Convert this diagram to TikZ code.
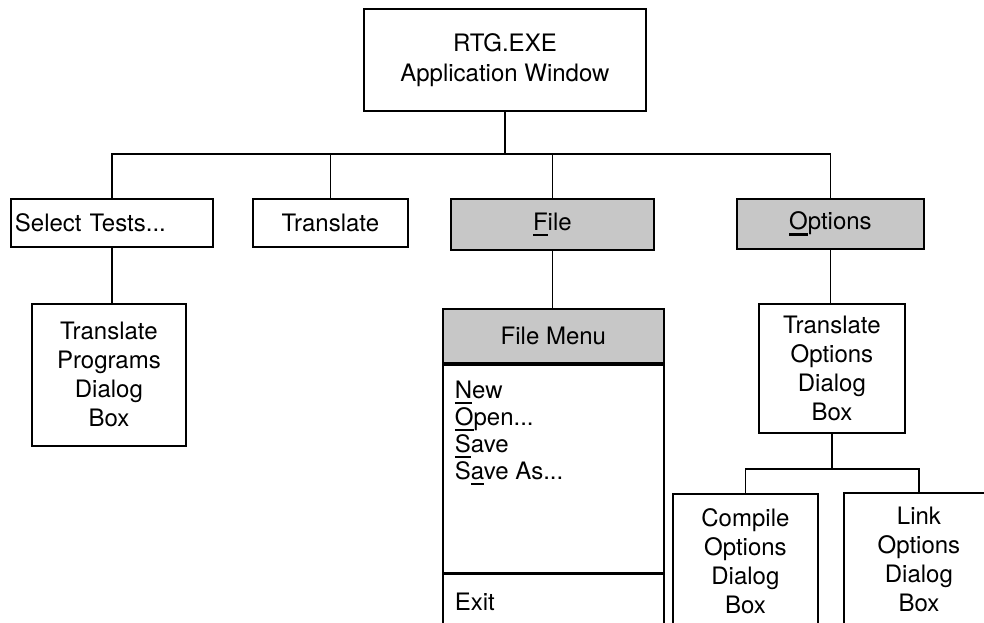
\documentclass[tikz,border=0pt]{standalone}
\usepackage{fontspec}
\setmainfont{TeX Gyre Heros}
\usetikzlibrary{positioning}
\newcommand{\mnem}[1]{\leavevmode\setbox0=\hbox{#1}\rlap{\rule[-3pt]{\wd0}{1.3pt}}#1}

\begin{document}
\begin{tikzpicture}[x=0.5pt,y=-0.5pt,
			box/.style={draw,line width=0.9pt,anchor=north west,inner sep=2pt,align=center,font=\fontsize{12}{14.5}\selectfont},
			shaded/.style={box,fill=black!22},
			wire/.style={draw,line width=0.9pt}
			]
			\useasboundingbox (0,0) rectangle (984,622);
			\node[box,minimum width=141pt,minimum height=51pt,font=\fontsize{12}{15}\selectfont] (app) at (363,8) {RTG.EXE\\Application Window};
			\node[box,minimum width=101pt,minimum height=24pt,text width=97pt,align=left] (sel) at (10,198) {Select Tests...};
			\node[box,minimum width=77.5pt,minimum height=24pt] (trans) at (252,198) {Translate};
			\node[shaded,minimum width=101.5pt,minimum height=25.5pt] (file) at (450,198) {\mnem{F}ile};
			\node[shaded,minimum width=93.5pt,minimum height=25pt] (opt) at (736,198) {\mnem{O}ptions};
			\node[box,minimum width=77pt,minimum height=71pt] (tprog) at (31,303) {Translate\\Programs\\Dialog\\Box};
			% file menu
			\node[shaded,minimum width=110.5pt,minimum height=27pt] (fmhead) at (442,308) {File Menu};
			\node[box,minimum width=110.5pt,inner xsep=6pt,inner ysep=8pt] (fmbody) [below=0pt of fmhead]
				{\parbox[c][88pt][t]{98.5pt}{\fontsize{12}{13.5}\selectfont\mnem{N}ew\\\mnem{O}pen...\\\mnem{S}ave\\S\mnem{a}ve As...}};
			\node[box,minimum width=110.5pt,minimum height=27pt,text width=98.5pt,align=left,inner xsep=6pt] (fmexit) [below=0pt of fmbody] {Exit};
			% options dialogs
			\node[box,minimum width=73pt,minimum height=64.5pt] (topt) at (758,303) {Translate\\Options\\Dialog\\Box};
			\node[box,minimum width=72.5pt,minimum height=67pt] (comp) at (672,493) {Compile\\Options\\Dialog\\Box};
			\node[box,minimum width=75pt,minimum height=67pt] (lnk) at (843,492) {Link\\Options\\Dialog\\Box};
			\draw[wire] (app.south) -- ++(0,42) coordinate (bus);
			\draw[wire] (bus) -| (sel.north);
			\draw[wire] (bus) -| (trans.north);
			\draw[wire] (bus) -| (file.north);
			\draw[wire] (bus) -| (opt.north);
			\draw[wire] (sel.south) -- (sel.south |- tprog.north);
			\draw[wire] (file.south) -- (file.south |- fmhead.north);
			\draw[wire] (opt.south) -- (opt.south |- topt.north);
			\draw[wire] (topt.south) -- ++(0,35) coordinate (sub);
			\draw[wire] (sub) -| (comp.north);
			\draw[wire] (sub) -| (lnk.north);
		\end{tikzpicture}
\end{document}
